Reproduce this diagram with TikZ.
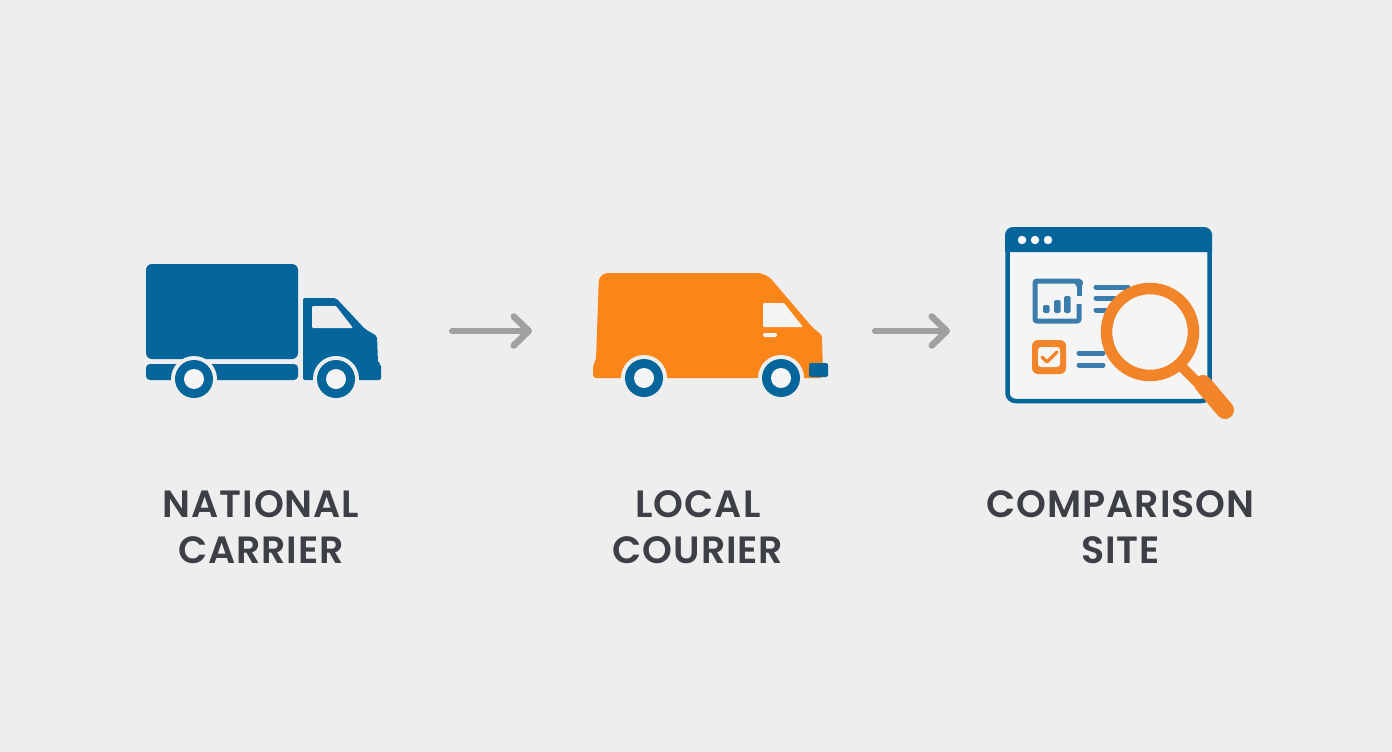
\documentclass[tikz,border=0pt]{standalone}
\usepackage{fontspec}
\setmainfont{Poppins}[UprightFont=* SemiBold,LetterSpace=2.5]
\usetikzlibrary{arrows.meta}
\definecolor{bgc}{HTML}{EEEEEE}
\definecolor{bluec}{HTML}{06669C}
\definecolor{orangec}{HTML}{FA8519}
\definecolor{orangeb}{HTML}{F28429}
\definecolor{greyc}{HTML}{A0A0A0}
\definecolor{textc}{HTML}{3C3F45}
\definecolor{paperc}{HTML}{F5F5F5}
\definecolor{chartc}{HTML}{3A7CAB}
\tikzset{
  x=1pt,y=-1pt,
  flow/.style={line width=6pt,greyc,line cap=round,-{Straight Barb[round,length=15pt,width=29pt,line width=6.5pt]}},
  caption/.style={align=center,text=textc,font=\fontsize{38}{46}\selectfont,inner sep=0pt},
  halo/.style={fill=bgc,draw=none},
  tyre/.style={fill=bluec,draw=none},
  hole/.style={fill=paperc,draw=none},
  textbar/.style={line width=5pt,line cap=round,chartc},
}
\newcommand{\wheel}[2]{%
  \fill[halo] (#1,#2) circle[radius=23];
  \fill[tyre] (#1,#2) circle[radius=19];
  \fill[hole] (#1,#2) circle[radius=10];
}
\begin{document}
\begin{tikzpicture}
\useasboundingbox (0,0) rectangle (1392,752);
\fill[bgc] (0,0) rectangle (1392,752);

% truck
\fill[bluec,rounded corners=6] (146,264) rectangle (298,359);
\fill[bluec,rounded corners=4] (146,364) -- (298,364) -- (298,380) -- (146,380) -- cycle;
\fill[bluec,rounded corners=2] (303,298) -- (336,298) -- (365,329) -- (377,336) -- (378,363) -- (381,364) -- (381,380) -- (303,380) -- cycle;
\fill[bgc,rounded corners=1] (312,306) -- (336,306) -- (353,328) -- (312,328) -- cycle;
\wheel{194}{379}
\wheel{336}{379}

% van
\fill[orangec,rounded corners=9] (680,273) -- (766,273)
   [rounded corners=3] -- (813,328) -- (822,335) -- (823,378) -- (593,378) -- (593,365) -- (596,360)
   [rounded corners=9] -- (599,273) -- cycle;
\fill[paperc,rounded corners=1] (763,303) -- (784,303) -- (803,327) -- (763,327) -- cycle;
\fill[paperc,rounded corners=1.5] (763,333) rectangle (777,337);
\fill[bluec,rounded corners=2] (809,363) rectangle (828,377);
\wheel{644}{378}
\wheel{781}{378}

% site window
\fill[paperc] (1007,230) rectangle (1210,401);
\draw[bluec,line width=4.5pt,rounded corners=8] (1007.5,229.5) rectangle (1209.5,401);
\fill[bluec,rounded corners=8] (1005,252) [sharp corners] -- (1005,235) [rounded corners=8] -- (1005,227) -- (1212,227) -- (1212,240) [sharp corners] -- (1212,252) -- cycle;
\foreach \dx in {1022,1035,1048} \fill[white] (\dx,240) circle[radius=4.2];

% chart
\draw[chartc,line width=5pt,rounded corners=2] (1079,281) -- (1035,281) -- (1035,321) -- (1079,321) -- (1079,304);
\draw[chartc,line width=5pt] (1079,283) -- (1079,296);
\fill[chartc] (1079,283) circle[radius=4.2];
\fill[chartc,rounded corners=1.5] (1043,305) rectangle (1049.5,313);
\fill[chartc,rounded corners=1.5] (1054,300) rectangle (1060.5,313);
\fill[chartc,rounded corners=1.5] (1064,296) rectangle (1070.5,313);
\draw[textbar] (1096,287) -- (1128,287);
\draw[textbar] (1096,298) -- (1114,298);
\draw[textbar] (1096,310) -- (1107,310);

% check tile
\fill[orangeb,rounded corners=6] (1032,340) rectangle (1066,374);
\fill[paperc,rounded corners=3] (1038,347) rectangle (1060,367);
\draw[orangeb,line width=3.5pt,line cap=round,line join=round] (1042,357) -- (1047,362) -- (1057,352);
\draw[textbar] (1079,353) -- (1103,353);
\draw[textbar] (1079,365) -- (1103,365);

% magnifier
\draw[orangeb,line width=10pt] (1182,367) -- (1198,383);
\draw[orangeb,line width=18pt,line cap=round] (1203,384) -- (1225,410);
\draw[orangeb,line width=11.5pt,fill=paperc] (1150,332) circle[radius=43.5];

% named anchors and connectors
\coordinate (a1s) at (452,331);
\coordinate (a1e) at (532,331);
\coordinate (a2s) at (875,331);
\coordinate (a2e) at (950,331);
\draw[flow] (a1s) -- (a1e);
\draw[flow] (a2s) -- (a2e);

% captions
\node[caption] (national) at (261,527.5) {NATIONAL\\CARRIER};
\node[caption] (local) at (698,527.5) {LOCAL\\COURIER};
\node[caption] (compare) at (1120.5,527.5) {COMPARISON\\SITE};
\end{tikzpicture}
\end{document}
